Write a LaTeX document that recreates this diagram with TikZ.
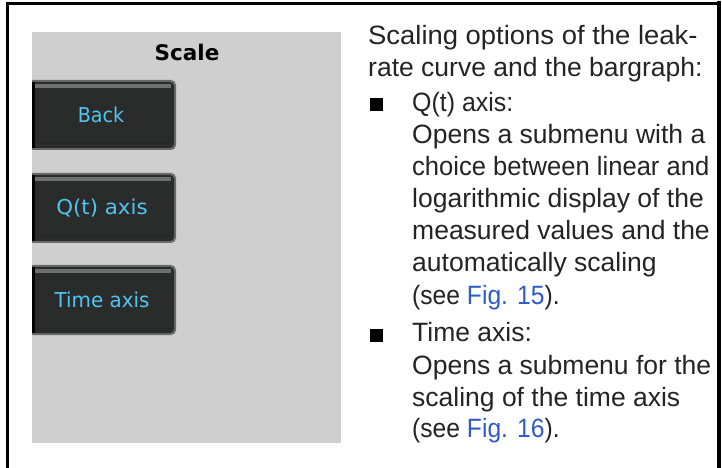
\documentclass[tikz,border=0pt]{standalone}
\usepackage{fontspec}
\usepackage{graphicx}
\setmainfont{Liberation Sans}
\newfontfamily\uifont{DejaVu Sans}
\definecolor{panelgray}{HTML}{CFCFCF}
\definecolor{btnborder}{HTML}{6A6A6A}
\definecolor{btnfill}{HTML}{2A2C2C}
\definecolor{btnhi}{HTML}{6E7070}
\definecolor{btntext}{HTML}{52C4F0}
\definecolor{txt}{HTML}{242424}
\definecolor{linkblue}{HTML}{2F5CC8}
\tikzset{
  bodytext/.style={anchor=base west, inner sep=0pt, text=txt,
    font=\fontsize{26.5bp}{30bp}\selectfont},
  btnlabel/.style={anchor=center, inner sep=0pt, text=btntext,
    font=\uifont\fontsize{20.5bp}{22bp}\selectfont},
  bulletsq/.style={fill=black, draw=none},
  framestyle/.style={draw=black, line cap=rect}
}
\newcommand{\xsc}[2]{\scalebox{#1}[1]{#2}}
\newcommand{\drawbutton}[2]{%
  \begin{scope}
    \clip (32,#1) rectangle (200,#2);
    \fill[btnborder, rounded corners=5bp] (20,#1) rectangle (176,#2);
    \fill[btnfill, rounded corners=4bp] (20,#1+2) rectangle (174,#2-2);
    \fill[btnhi] (30,#1+4) rectangle (171,#1+8);
    \fill[black!85] (30,#2-7) rectangle (171,#2-5.5);
    \fill[black] (32,#1+2) rectangle (34.5,#2-2);
  \end{scope}}
\begin{document}
\begin{tikzpicture}[x=1bp,y=-1bp]
\useasboundingbox (0,0) rectangle (722,468);
\fill[white] (0,0) rectangle (722,468);
% frame
\draw[framestyle, line width=3bp] (7.5,472) -- (7.5,3.5) -- (719,3.5);
\draw[framestyle, line width=4bp] (719,3.5) -- (719,472);
% panel
\fill[panelgray] (32,32) rectangle (341,443);
\node[anchor=base, inner sep=0pt, font=\uifont\bfseries\fontsize{21.5bp}{24bp}\selectfont] (title) at (187,60.5) {Scale};
% buttons
\drawbutton{80}{150}
\drawbutton{173}{243}
\drawbutton{265}{335}
\node[btnlabel] (back) at (101,115) {\xsc{0.93}{Back}};
\node[btnlabel] (qaxis) at (102,208) {\xsc{1.04}{Q(t) axis}};
\node[btnlabel] (taxis) at (102,300) {\xsc{0.97}{Time axis}};
% text
\node[bodytext] (l1) at (368,45) {\xsc{1.035}{Scaling options of the leak-}};
\node[bodytext] (l2) at (368,77) {rate curve and the bargraph:};
\fill[bulletsq] (370,98) rectangle (383,111);
\node[bodytext] (l3) at (412,112) {\xsc{0.94}{Q(t) axis:}};
\node[bodytext] (l4) at (412,144) {Opens a submenu with a};
\node[bodytext] (l5) at (412,176) {\xsc{0.965}{choice between linear and}};
\node[bodytext] (l6) at (412,208) {logarithmic display of the};
\node[bodytext] (l7) at (412,240) {measured values and the};
\node[bodytext] (l8) at (412,272) {automatically scaling};
\node[bodytext] (l9) at (412,305) {\xsc{0.93}{(see \textcolor{linkblue}{Fig. 15}).}};
\fill[bulletsq] (370,329) rectangle (383,342);
\node[bodytext] (l10) at (412,342) {Time axis:};
\node[bodytext] (l11) at (412,374) {Opens a submenu for the};
\node[bodytext] (l12) at (412,406) {scaling of the time axis};
\node[bodytext] (l13) at (412,437.5) {\xsc{0.93}{(see \textcolor{linkblue}{Fig. 16}).}};
\end{tikzpicture}
\end{document}
